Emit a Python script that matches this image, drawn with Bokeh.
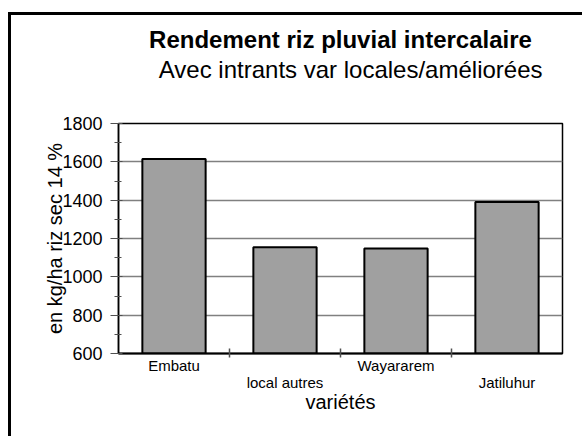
from bokeh.plotting import figure
from bokeh.models import Range1d, FixedTicker, ColumnDataSource, Title, LinearAxis
from bokeh.embed import file_html
from bokeh.resources import INLINE

categories = ["Embatu", "local autres", "Wayararem", "Jatiluhur"]
values = [1615, 1155, 1148, 1390]
y_ticks = [600, 800, 1000, 1200, 1400, 1600, 1800]

FONT = "Liberation Sans"

# each category occupies two x units: centre at 2*i+1, boundaries at even numbers
xs = [2 * i + 1 for i in range(len(categories))]
bounds = [2 * i for i in range(1, len(categories))]
src = ColumnDataSource(dict(x=xs, top=values, cat=categories))

p = figure(width=574, height=424, output_backend="svg", toolbar_location=None,
           x_range=Range1d(0, 2 * len(categories)), y_range=Range1d(600, 1800),
           min_border_left=107, min_border_right=23, min_border_top=107,
           min_border_bottom=86)
p.styles = {"margin-left": "8px", "margin-top": "12px",
            "border-left": "3px solid black", "border-top": "3px solid black"}

p.vbar(x="x", top="top", bottom=600, width=1.14, source=src,
       fill_color="#a0a0a0", line_color="black", line_width=2)

p.outline_line_color = "black"
p.outline_line_width = 1.5
p.xgrid.visible = False
p.ygrid.grid_line_color = "#808080"
p.ygrid.grid_line_width = 1.5
p.ygrid.ticker = FixedTicker(ticks=y_ticks)

ya = p.yaxis[0]
ya.ticker = FixedTicker(ticks=y_ticks, minor_ticks=list(range(600, 1801, 100)))
ya.axis_line_color = "black"
ya.axis_line_width = 1.5
ya.major_tick_out = 8
ya.major_tick_in = 4
ya.minor_tick_out = 4
ya.minor_tick_in = 3
ya.major_tick_line_color = "#505050"
ya.minor_tick_line_color = "#505050"
ya.major_label_text_font = FONT
ya.major_label_text_font_size = "18px"
ya.major_label_text_color = "black"
ya.major_label_standoff = 8
ya.axis_label = "en kg/ha riz sec 14 %"
ya.axis_label_text_font = FONT
ya.axis_label_text_font_size = "20px"
ya.axis_label_text_font_style = "normal"
ya.axis_label_text_color = "black"
ya.axis_label_standoff = -7

# main x axis: labels of the first row at the bar centres,
# boundary ticks drawn as minor ticks
row1 = [0, 2]
row2 = [1, 3]
xa = p.xaxis[0]
xa.ticker = FixedTicker(ticks=[xs[i] for i in row1], minor_ticks=bounds)
xa.major_label_overrides = {xs[i]: categories[i] for i in row1}
xa.axis_line_color = "black"
xa.axis_line_width = 2
xa.major_tick_out = 0
xa.major_tick_in = 0
xa.minor_tick_out = 4
xa.minor_tick_in = 5
xa.minor_tick_line_color = "#505050"
xa.minor_tick_line_width = 1.5
xa.major_label_standoff = -1
xa.major_label_text_font = FONT
xa.major_label_text_font_size = "15px"
xa.major_label_text_color = "black"

# second row of staggered labels and the axis title
ax2 = LinearAxis(ticker=FixedTicker(ticks=[xs[i] for i in row2]),
                 major_label_overrides={xs[i]: categories[i] for i in row2},
                 axis_line_color=None, major_tick_line_color=None,
                 minor_tick_line_color=None, major_tick_out=0, major_tick_in=0,
                 major_label_standoff=-3,
                 major_label_text_font=FONT, major_label_text_font_size="15px",
                 major_label_text_color="black",
                 axis_label="variétés", axis_label_text_font=FONT,
                 axis_label_text_font_size="20px",
                 axis_label_text_font_style="normal",
                 axis_label_text_color="black", axis_label_standoff=-3)
p.add_layout(ax2, "below")

sub = Title(text="Avec intrants var locales/améliorées", align="right",
            vertical_align="middle",
            text_font=FONT, text_font_size="24px", text_font_style="normal",
            text_color="black", standoff=79, offset=20)
main = Title(text="Rendement riz pluvial intercalaire", align="center",
             text_font=FONT, text_font_size="24px", text_font_style="bold",
             text_color="black", standoff=-75)
p.add_layout(sub, "above")
p.add_layout(main, "above")

open("out.html", "w").write(file_html(p, INLINE))
